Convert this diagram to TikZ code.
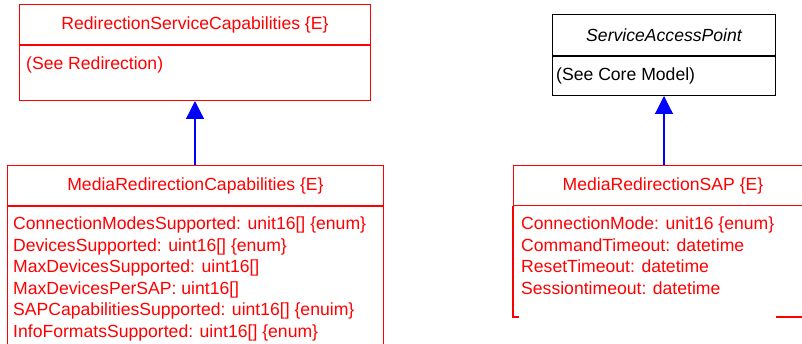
\documentclass[tikz,border=0pt]{standalone}
\usepackage{fontspec}
\setmainfont{Liberation Sans}
\usetikzlibrary{arrows.meta, positioning}

\begin{document}
\begin{tikzpicture}[
    x=1pt, y=-1pt,
    % Node styles
    classhead/.style={
        rectangle,
        draw=red,
        text=red,
        line width=1pt,
        minimum height=40pt,
        inner sep=0pt,
        anchor=north west,
        font=\fontsize{17.6}{21.6}\selectfont
    },
    classbody/.style={
        rectangle,
        draw=red,
        line width=1pt,
        inner sep=0pt
    },
    attrs/.style={
        text=red,
        align=left,
        inner sep=0pt,
        anchor=north west,
        font=\fontsize{17.6}{21.6}\selectfont
    },
    inherit/.style={
        -{Triangle[length=18pt, width=18pt]},
        draw=blue,
        fill=blue,
        line width=1.2pt
    }
]
\clip (0,0) rectangle (802,344);

% --- Left hierarchy ---
\node[classhead, minimum width=351pt] (rschead) at (19,4) {RedirectionServiceCapabilities \{E\}};
\node[classbody, minimum width=351pt, minimum height=55pt, below=0pt of rschead] (rscbody) {};
\node[attrs] (rscattr) at ([xshift=7pt, yshift=-11.5pt]rscbody.north west) {(See Redirection)};

\node[classhead, minimum width=376pt] (mrchead) at (7,165) {MediaRedirectionCapabilities \{E\}};
\node[classbody, minimum width=376pt, minimum height=185pt, below=0pt of mrchead] (mrcbody) {};
\node[attrs] (mrcattr) at ([xshift=6pt, yshift=-10.5pt]mrcbody.north west) {ConnectionModesSupported: unit16[] \{enum\}\\
    DevicesSupported: uint16[] \{enum\}\\
    MaxDevicesSupported: uint16[]\\
    MaxDevicesPerSAP: uint16[]\\
    SAPCapabilitiesSupported: uint16[] \{enuim\}\\
    InfoFormatsSupported: uint16[] \{enum\}};

% --- Right hierarchy ---
\node[classhead, draw=black, text=black, minimum width=223pt, minimum height=41pt,
    font=\fontsize{17.6}{21.6}\selectfont\itshape] (saphead) at (552,14) {ServiceAccessPoint};
\node[classbody, draw=black, minimum width=223pt, minimum height=39pt, below=0pt of saphead] (sapbody) {};
\node[attrs, text=black] (sapattr) at ([xshift=4pt, yshift=-11.5pt]sapbody.north west) {(See Core Model)};

\node[classhead, minimum width=299pt] (mrshead) at (513,165) {MediaRedirectionSAP \{E\}};
\node[classbody, draw=none, minimum width=299pt, minimum height=110pt, below=0pt of mrshead] (mrsbody) {};
\node[attrs] (mrsattr) at ([xshift=8pt, yshift=-10.5pt]mrsbody.north west) {ConnectionMode: unit16 \{enum\}\\
    CommandTimeout: datetime\\
    ResetTimeout: datetime\\
    Sessiontimeout: datetime};
\draw[red, line width=1.2pt] (mrsbody.north west) -- (mrsbody.south west) -- ++(6,0);
\draw[red, line width=1.2pt] (mrsbody.south east) -- ++(-37,0);

% --- Arrows ---
\draw[inherit] (rscbody.south |- mrchead.north) -- (rscbody.south);
\draw[inherit] (sapbody.south |- mrshead.north) -- (sapbody.south);

\end{tikzpicture}
\end{document}
